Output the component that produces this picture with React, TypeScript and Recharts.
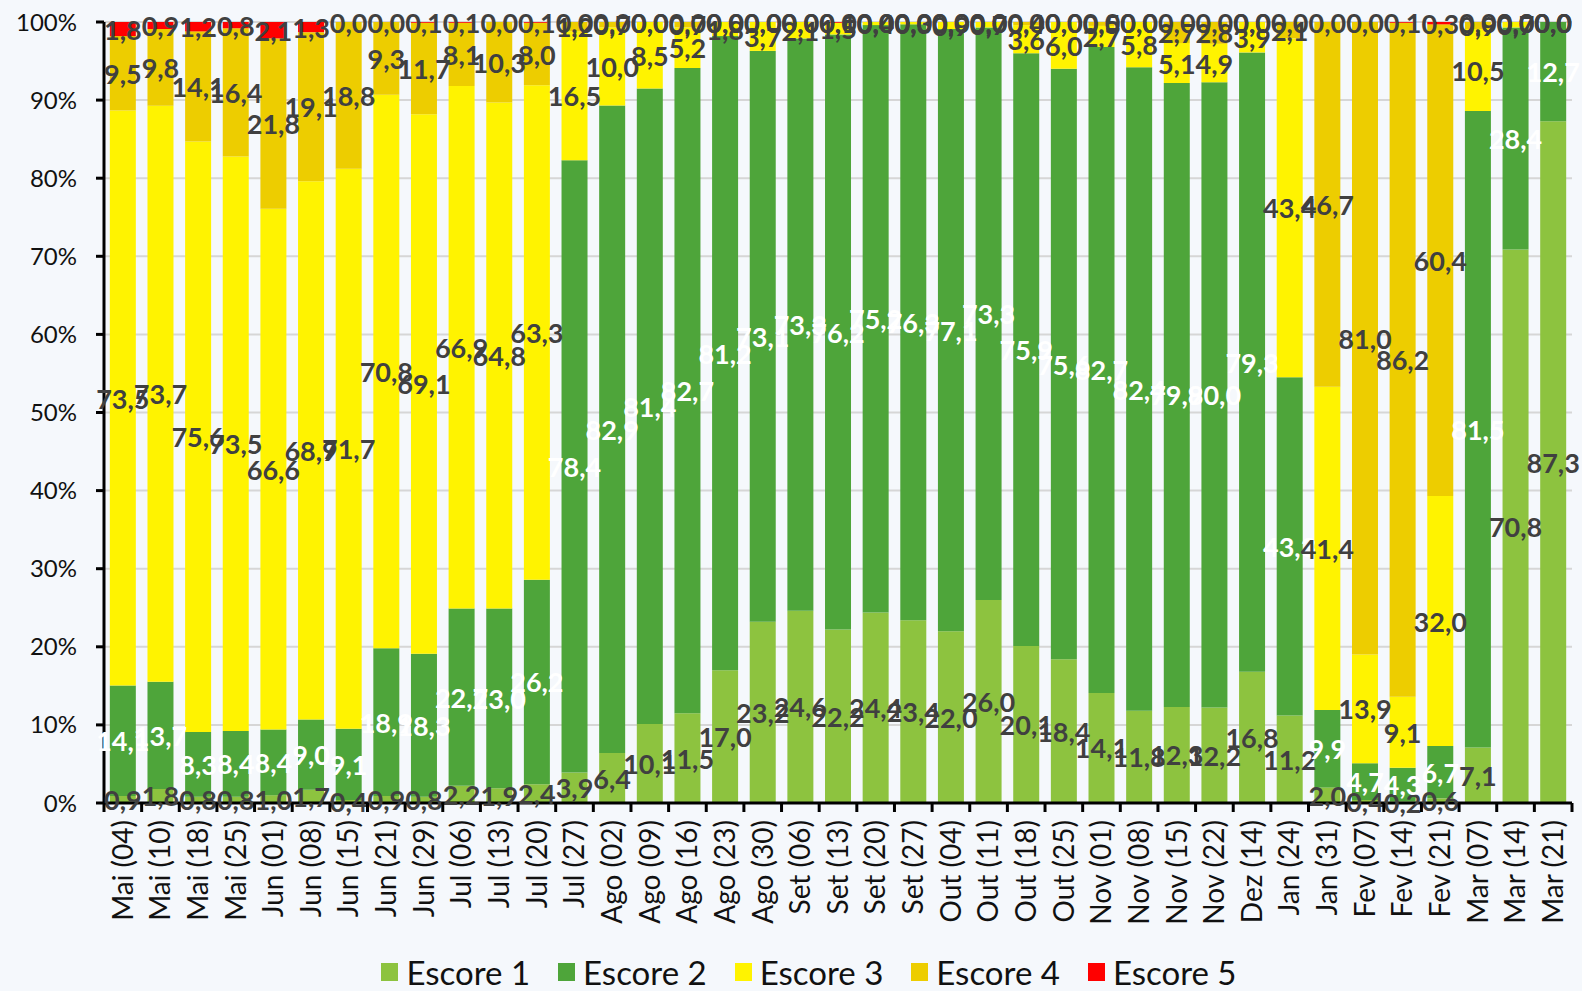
import React from "react";
import {
  BarChart,
  Bar,
  XAxis,
  YAxis,
  CartesianGrid,
  Legend,
  LabelList,
} from "recharts";

const categories = [
  "Mai (04)", "Mai (10)", "Mai (18)", "Mai (25)", "Jun (01)", "Jun (08)", "Jun (15)",
  "Jun (21)", "Jun (29)", "Jul (06)", "Jul (13)", "Jul (20)", "Jul (27)", "Ago (02)",
  "Ago (09)", "Ago (16)", "Ago (23)", "Ago (30)", "Set (06)", "Set (13)", "Set (20)",
  "Set (27)", "Out (04)", "Out (11)", "Out (18)", "Out (25)", "Nov (01)", "Nov (08)",
  "Nov (15)", "Nov (22)", "Dez (14)", "Jan (24)", "Jan (31)", "Fev (07)", "Fev (14)",
  "Fev (21)", "Mar (07)", "Mar (14)", "Mar (21)",
];

const escore1 = [
  0.9, 1.8, 0.8, 0.8, 1.0, 1.7, 0.4, 0.9, 0.8, 2.2, 1.9, 2.4, 3.9, 6.4, 10.1, 11.5, 17.0,
  23.2, 24.6, 22.2, 24.4, 23.4, 22.0, 26.0, 20.1, 18.4, 14.1, 11.8, 12.3, 12.2, 16.8, 11.2,
  2.0, 0.4, 0.2, 0.6, 7.1, 70.8, 87.3,
];
const escore2 = [
  14.1, 13.7, 8.3, 8.4, 8.4, 9.0, 9.1, 18.9, 18.3, 22.7, 23.0, 26.2, 78.4, 82.9, 81.4, 82.7,
  81.2, 73.1, 73.3, 76.2, 75.2, 76.3, 77.1, 73.3, 75.9, 75.6, 82.7, 82.4, 79.9, 80.0, 79.3,
  43.3, 9.9, 4.7, 4.3, 6.7, 81.5, 28.4, 12.7,
];
const escore3 = [
  73.5, 73.7, 75.6, 73.5, 66.6, 68.9, 71.7, 70.8, 69.1, 66.9, 64.8, 63.3, 16.5, 10.0, 8.5,
  5.2, 1.8, 3.7, 2.1, 1.5, 0.4, 0.3, 0.9, 0.7, 3.6, 6.0, 2.7, 5.8, 5.1, 4.9, 3.9, 43.4, 41.4,
  13.9, 9.1, 32.0, 10.5, 0.7, 0.0,
];
const escore4 = [
  9.5, 9.8, 14.1, 16.4, 21.8, 19.1, 18.8, 9.3, 11.7, 8.1, 10.3, 8.0, 1.2, 0.7, 0.0, 0.7, 0.0,
  0.0, 0.0, 0.0, 0.0, 0.0, 0.0, 0.0, 0.4, 0.0, 0.5, 0.0, 2.7, 2.8, 0.0, 2.1, 46.7, 81.0, 86.2,
  60.4, 0.9, 0.0, 0.0,
];
const escore5 = [
  1.8, 0.9, 1.2, 0.8, 2.1, 1.3, 0.0, 0.0, 0.1, 0.1, 0.0, 0.1, 0.0, 0.0, 0.0, 0.0, 0.0, 0.0,
  0.0, 0.1, 0.0, 0.0, 0.0, 0.0, 0.0, 0.0, 0.0, 0.0, 0.0, 0.0, 0.0, 0.0, 0.0, 0.0, 0.1, 0.3,
  0.0, 0.0, 0.0,
];

const yTicks = [0, 0.1, 0.2, 0.3, 0.4, 0.5, 0.6, 0.7, 0.8, 0.9, 1];

const series = [
  { key: "e1", name: "Escore 1", color: "#8DC33F", label: "#404040" },
  { key: "e2", name: "Escore 2", color: "#4EA53A", label: "#FFFFFF" },
  { key: "e3", name: "Escore 3", color: "#FFF300", label: "#404040" },
  { key: "e4", name: "Escore 4", color: "#EDCD00", label: "#404040" },
  { key: "e5", name: "Escore 5", color: "#FF0000", label: "#404040" },
];

const data = categories.map((cat, i) => ({
  cat,
  e1: escore1[i],
  e2: escore2[i],
  e3: escore3[i],
  e4: escore4[i],
  e5: escore5[i],
}));

const FONT = "Lato, 'Open Sans', sans-serif";
const W = 1582;
const H = 991;
const PLOT_LEFT = 104;
const PLOT_RIGHT = 1572;
const band = (PLOT_RIGHT - PLOT_LEFT) / categories.length;
const LABEL_SIZE = 27;

const fmt = (v: number) => v.toFixed(1).replace(".", ",");

const labelText = (x: number, y: number, color: string, v: number, key?: string) => (
  <text
    key={key}
    x={x}
    y={y}
    fill={color}
    fontSize={LABEL_SIZE}
    fontWeight={700}
    fontFamily={FONT}
    textAnchor="middle"
    dominantBaseline="central"
  >
    {fmt(v)}
  </text>
);

const makeLabel = (color: string) => (props: any) => {
  const { x, y, width, height, value } = props;
  if (value == null || x == null) return null;
  const v = Array.isArray(value) ? value[1] - value[0] : Number(value);
  return labelText(Number(x) + Number(width) / 2, Number(y) + Number(height) / 2, color, v);
};

// Escore 2 is never zero; its label also places the "0,0" labels of the
// empty upper segments, which Recharts does not draw (zero height)
const escore2Label = (props: any) => {
  const { x, y, width, height, value, index } = props;
  if (value == null || x == null) return null;
  const cx = Number(x) + Number(width) / 2;
  const i = Number(index);
  const vals = [escore1[i], escore2[i], escore3[i], escore4[i], escore5[i]];
  const sum = vals.reduce((a, b) => a + b, 0);
  const px = Number(height) / (vals[1] / sum);
  const topY = Number(y) - ((sum - vals[0] - vals[1]) / sum) * px;
  const zeros = [2, 3, 4].filter((k) => vals[k] === 0);
  return (
    <g>
      {labelText(cx, Number(y) + Number(height) / 2, "#FFFFFF", vals[1])}
      {zeros.map((k) => labelText(cx, topY, "#404040", 0, `z${k}`))}
    </g>
  );
};

const XTick = (props: any) => {
  const { x, y, payload, index } = props;
  const left = x - band / 2;
  return (
    <g>
      <line x1={left} y1={y} x2={left} y2={y + 9} stroke="#000" strokeWidth={3} />
      {index === categories.length - 1 && (
        <line x1={x + band / 2} y1={y} x2={x + band / 2} y2={y + 9} stroke="#000" strokeWidth={3} />
      )}
      <text
        x={x}
        y={y + 17}
        transform={`rotate(-90, ${x}, ${y + 17})`}
        textAnchor="end"
        dy="0.35em"
        fontSize={28}
        fontFamily={FONT}
        fill="#111"
      >
        {payload.value}
      </text>
    </g>
  );
};

const LegendContent = () => (
  <div
    style={{
      display: "flex",
      justifyContent: "center",
      alignItems: "center",
      paddingLeft: 46,
      paddingTop: 6,
      height: 44,
      boxSizing: "border-box",
      fontFamily: FONT,
    }}
  >
    {series.map((s) => (
      <div key={s.key} style={{ display: "flex", alignItems: "center", margin: "0 14px" }}>
        <span style={{ width: 17, height: 18, background: s.color, marginRight: 8 }} />
        <span style={{ fontSize: 33, lineHeight: "34px", color: "#111" }}>{s.name}</span>
      </div>
    ))}
  </div>
);

export default function App() {
  return (
    <div
      style={{
        position: "fixed",
        top: 0,
        left: 0,
        width: W,
        height: H,
        background: "#F5F8FC",
        overflow: "hidden",
      }}
    >
      <BarChart
        width={W}
        height={H}
        data={data}
        stackOffset="expand"
        barCategoryGap="15.5%"
        margin={{ top: 22, right: W - PLOT_RIGHT, left: 0, bottom: 0 }}
      >
        <CartesianGrid vertical={false} stroke="#D6D6D6" strokeWidth={2} />
        <YAxis
          width={PLOT_LEFT}
          domain={[0, 1]}
          ticks={yTicks}
          interval={0}
          tickFormatter={(v: number) => `${Math.round(v * 100)}%`}
          axisLine={{ stroke: "#000", strokeWidth: 3 }}
          tickLine={{ stroke: "#000", strokeWidth: 3 }}
          tickSize={8}
          tickMargin={19}
          tick={{ fill: "#111", fontSize: 24, fontFamily: FONT }}
        />
        <Legend verticalAlign="bottom" height={44} content={<LegendContent />} />
        {series.map((s) => (
          <Bar
            key={s.key}
            dataKey={s.key}
            name={s.name}
            stackId="a"
            fill={s.color}
            isAnimationActive={false}
          >
            <LabelList
              dataKey={s.key}
              content={s.key === "e2" ? escore2Label : makeLabel(s.label)}
            />
          </Bar>
        ))}
        <XAxis
          dataKey="cat"
          interval={0}
          height={144}
          tickSize={0}
          tickMargin={0}
          tickLine={false}
          axisLine={{ stroke: "#000", strokeWidth: 3 }}
          tick={<XTick />}
        />
      </BarChart>
    </div>
  );
}
